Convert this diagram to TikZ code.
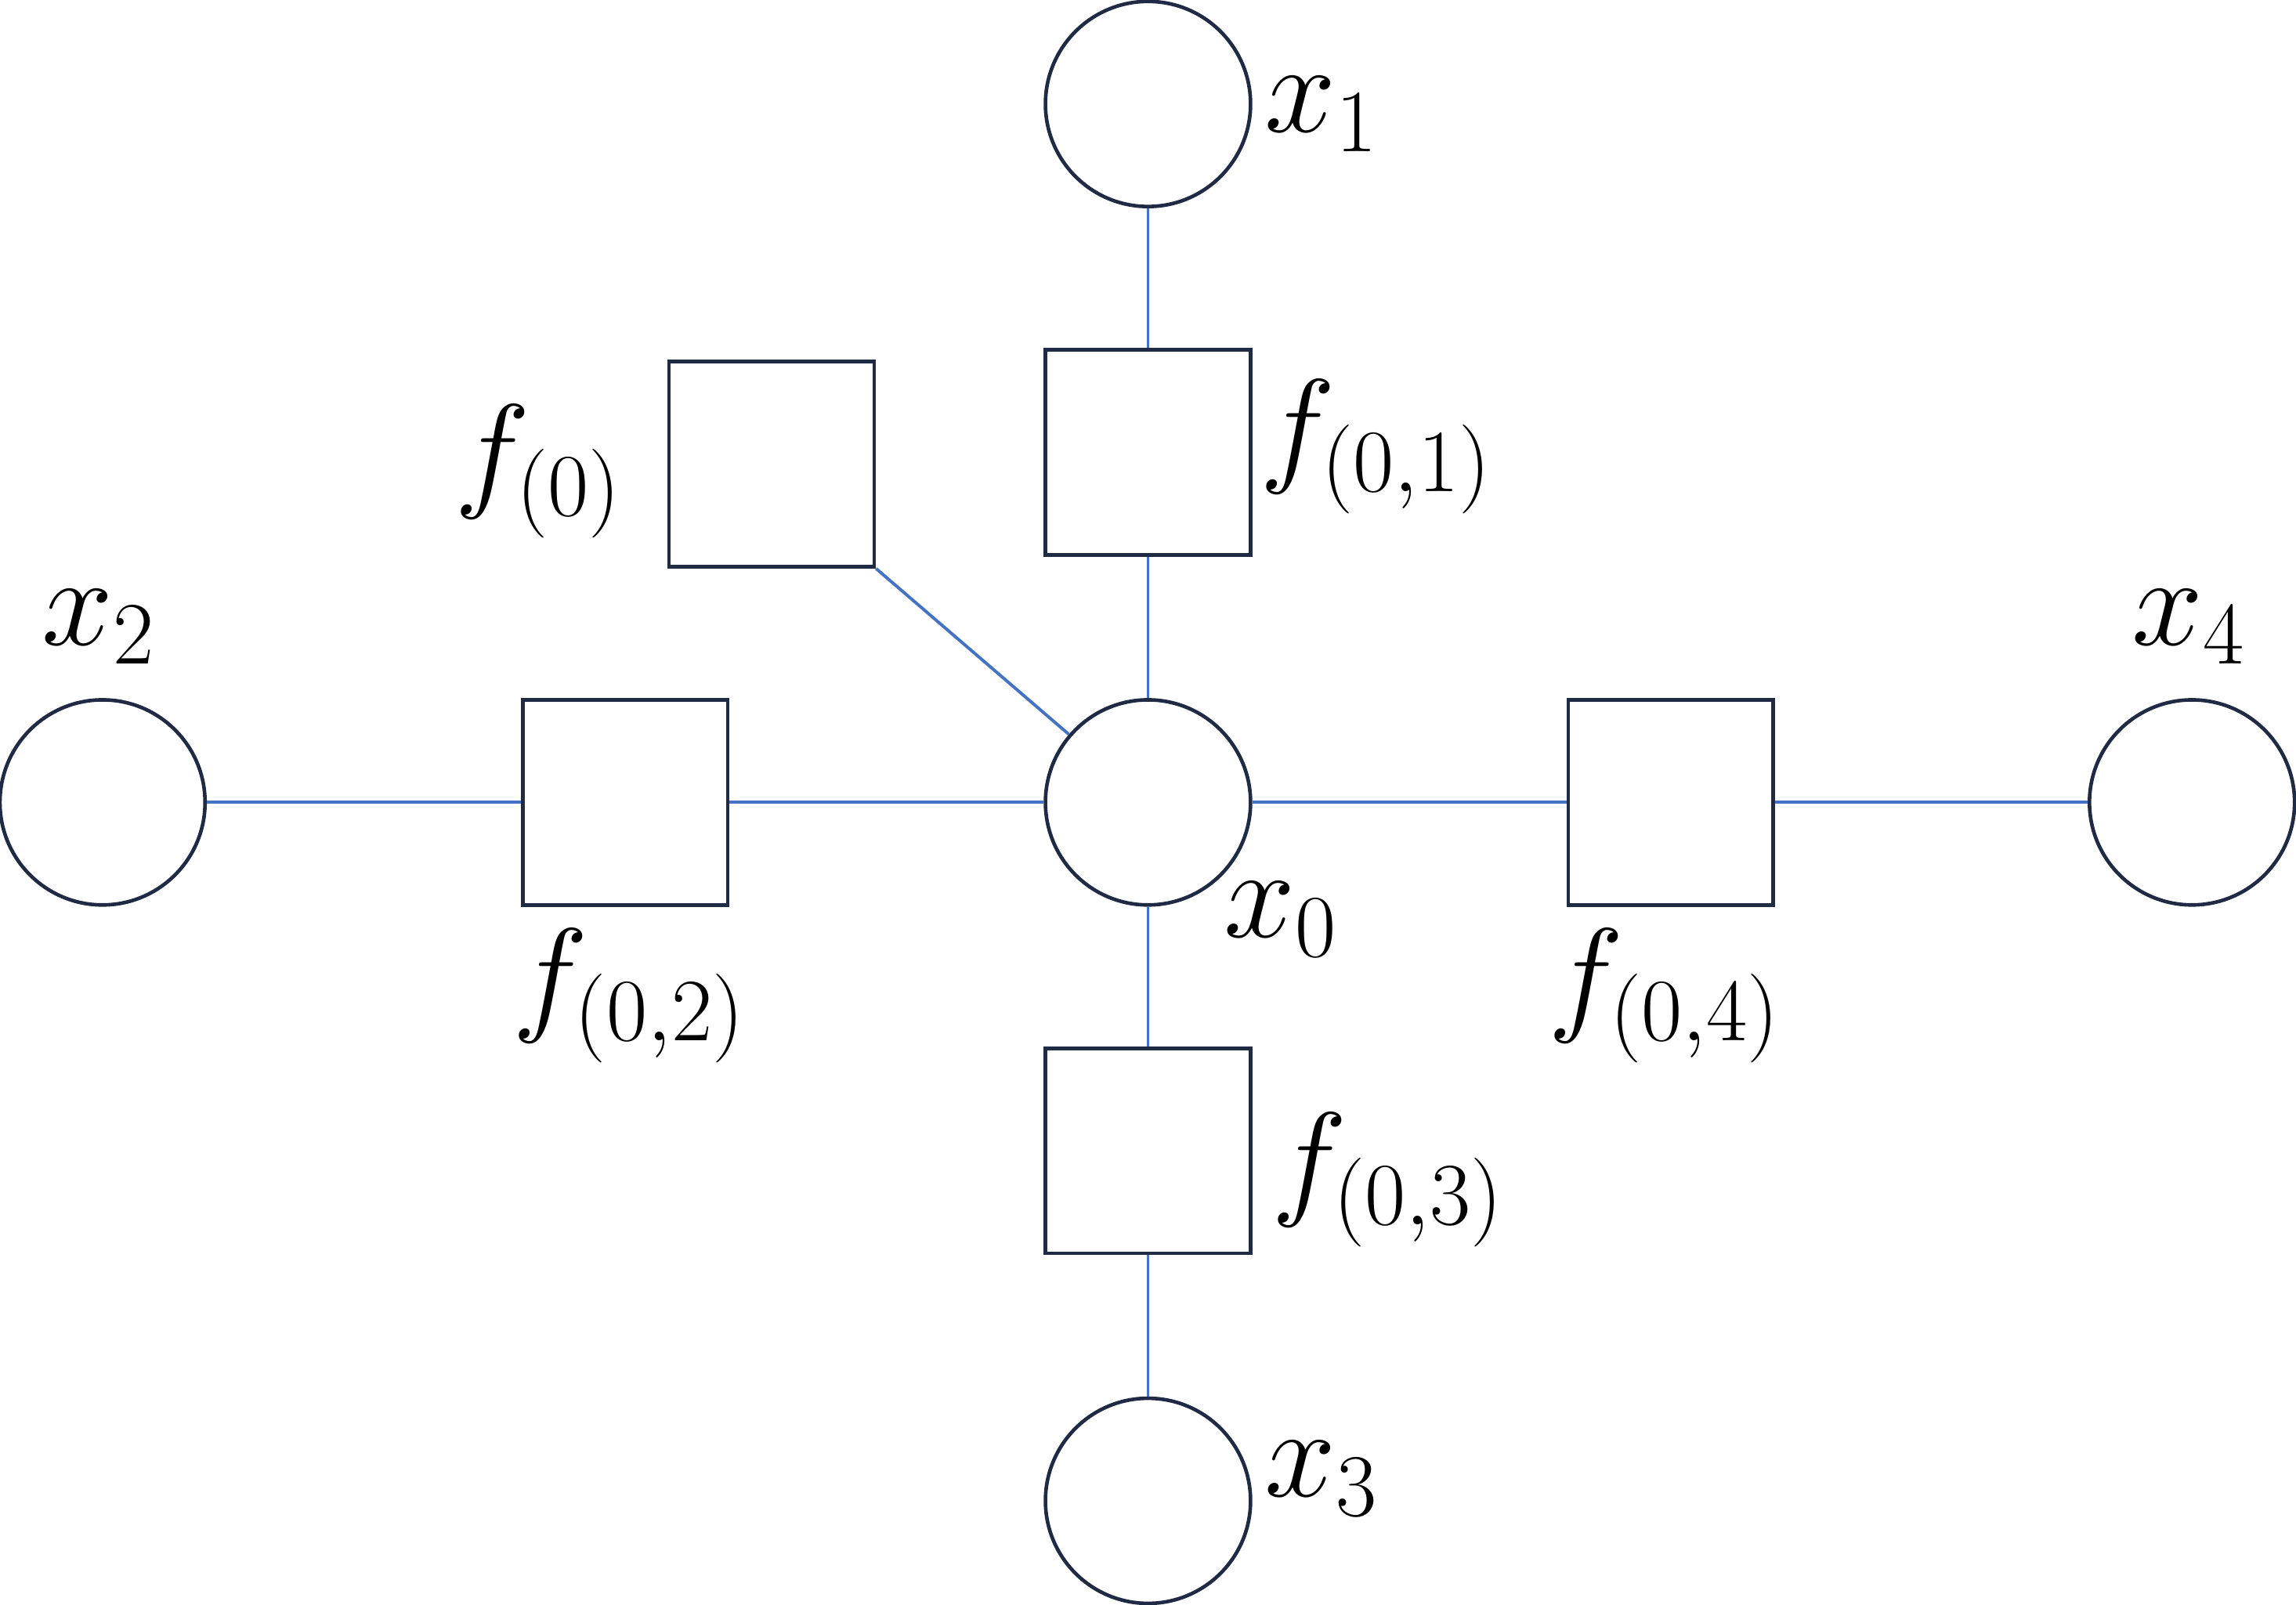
\documentclass[tikz,border=0pt]{standalone}
\usepackage{tikz}
\definecolor{navy}{HTML}{1F2A44}
\definecolor{edgeblue}{HTML}{4472C4}
\tikzset{
  var/.style={circle, draw=navy, line width=0.7pt, minimum size=1.4cm, inner sep=0pt},
  fac/.style={rectangle, draw=navy, line width=0.7pt, minimum size=1.4cm, inner sep=0pt},
  lbl/.style={font=\fontsize{26}{30}\selectfont},
  link/.style={draw=edgeblue, line width=0.6pt}
}
\begin{document}
\begin{tikzpicture}[x=0.01cm, y=-0.01cm]
  \useasboundingbox (0,0) rectangle (1568,1096);

  % variables
  \node[var] (x0) at (784,548) {};
  \node[var] (x1) at (784,71) {};
  \node[var] (x2) at (70,548) {};
  \node[var] (x3) at (784,1025) {};
  \node[var] (x4) at (1497,548) {};

  % factors
  \node[fac] (f0)  at (527,317) {};
  \node[fac] (f01) at (784,309) {};
  \node[fac] (f02) at (427,548) {};
  \node[fac] (f03) at (784,786) {};
  \node[fac] (f04) at (1141,548) {};

  % edges
  \draw[link] (x1) -- (f01);
  \draw[link] (f01) -- (x0);
  \draw[link] (x2) -- (f02);
  \draw[link] (f02) -- (x0);
  \draw[link] (x0) -- (f03);
  \draw[link] (f03) -- (x3);
  \draw[link] (x0) -- (f04);
  \draw[link] (f04) -- (x4);
  \draw[link] (f0.south east) -- (x0);

  % labels
  \node[lbl] (lx1)  at (903,78)   {$x_1$};
  \node[lbl] (lx0)  at (875,628)  {$x_0$};
  \node[lbl] (lx2)  at (68,428)   {$x_2$};
  \node[lbl] (lx3)  at (903,1010) {$x_3$};
  \node[lbl] (lx4)  at (1495,428) {$x_4$};
  \node[lbl] (lf0)  at (368,322)  {$f_{(0)}$};
  \node[lbl] (lf01) at (940,305)  {$f_{(0,1)}$};
  \node[lbl] (lf02) at (430,680)  {$f_{(0,2)}$};
  \node[lbl] (lf03) at (948,806)  {$f_{(0,3)}$};
  \node[lbl] (lf04) at (1137,680) {$f_{(0,4)}$};
\end{tikzpicture}
\end{document}
